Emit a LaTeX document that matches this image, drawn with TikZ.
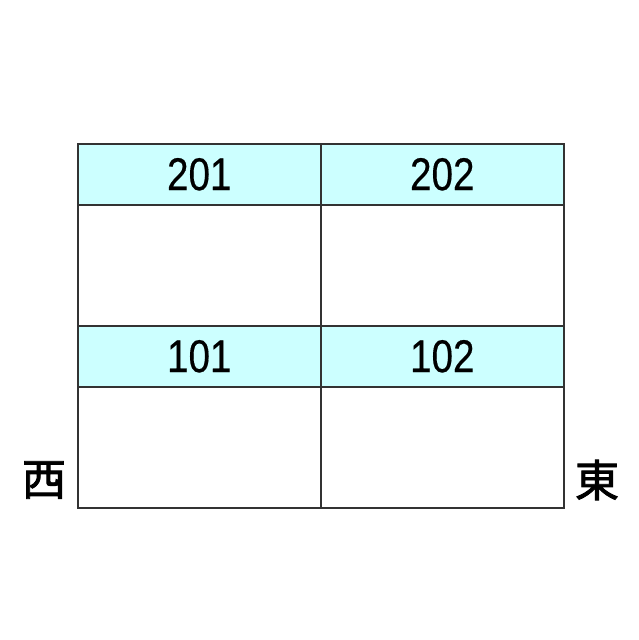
\documentclass[tikz,border=0pt]{standalone}
\usepackage{fontspec}
\setmainfont{Liberation Sans}[FakeBold=0.4]
\newfontfamily\cjk{Noto Sans CJK JP}[FakeBold=2]
\definecolor{hdr}{HTML}{CCFFFF}
\definecolor{ln}{HTML}{333333}
\begin{document}
\begin{tikzpicture}[x=1pt,y=-1pt,
  cell/.style={draw=ln,line width=1.6pt,minimum width=243pt,inner sep=0pt,anchor=north west},
  head/.style={cell,fill=hdr,minimum height=61pt,font=\fontsize{46}{46}\selectfont},
  body/.style={cell,fill=white,minimum height=121pt},
  dir/.style={font=\cjk\fontsize{44}{44}\selectfont,inner sep=0pt}]
\useasboundingbox (0,0) rectangle (639,640);
\node[head] (h201) at (77,143) {\raisebox{-4pt}{\scalebox{0.84}[1]{201}}};
\node[head] (h202) at (320,143) {\raisebox{-4pt}{\scalebox{0.84}[1]{202}}};
\node[body] (b201) at (77,204) {};
\node[body] (b202) at (320,204) {};
\node[head] (h101) at (77,325) {\raisebox{-4pt}{\scalebox{0.84}[1]{101}}};
\node[head] (h102) at (320,325) {\raisebox{-4pt}{\scalebox{0.84}[1]{102}}};
\node[body] (b101) at (77,386) {};
\node[body] (b102) at (320,386) {};
\node[dir] (w) at (44,480) {西};
\node[dir] (e) at (597,480) {東};
\end{tikzpicture}
\end{document}
